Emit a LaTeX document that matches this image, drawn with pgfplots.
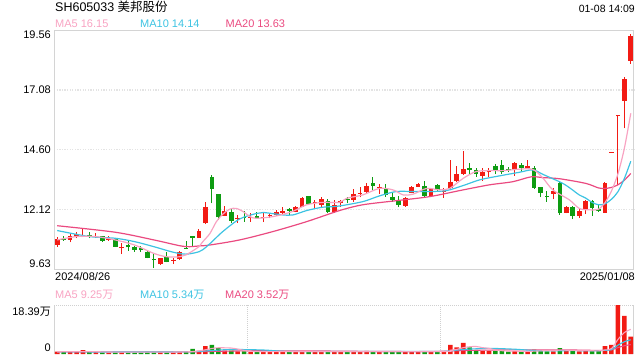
\documentclass[border=0pt]{standalone}
\usepackage{pgfplots}
\pgfplotsset{compat=1.18}
\usepackage{pgfplotstable}
\usepackage{fontspec}
\setmainfont{Liberation Sans}
\newfontfamily\cjk{Noto Sans CJK SC}
\definecolor{up}{HTML}{F21B14}
\definecolor{dn}{HTML}{0E9C12}
\definecolor{maf}{HTML}{F8A3C2}
\definecolor{mam}{HTML}{3DC3E2}
\definecolor{mas}{HTML}{EA4A80}
\definecolor{frame}{HTML}{D4D4D4}
\definecolor{gridc}{HTML}{E4E4E4}

\pgfplotstableread{
x o h l c v
0 10.64 10.98 10.56 10.89 0.9
2 10.85 11.13 10.75 11.00 0.8
3 11.00 11.18 10.93 11.09 0.8
4 10.97 11.30 10.97 11.06 1.5
6 10.97 11.13 10.93 11.03 0.8
8 10.84 11.00 10.82 10.88 0.6
10 10.53 10.71 10.26 10.57 0.7
16 9.84 10.11 9.81 10.08 0.8
18 9.98 10.11 9.84 10.01 0.6
19 10.04 10.39 10.02 10.34 0.9
22 10.92 11.30 10.92 11.24 1.2
23 11.54 12.41 11.51 12.21 3.0
26 11.86 12.28 11.84 12.04 1.3
28 11.73 11.89 11.56 11.76 1.0
30 11.77 11.96 11.61 11.82 0.8
32 11.77 11.96 11.59 11.82 0.9
33 11.86 11.96 11.75 11.89 0.8
34 11.89 12.10 11.85 12.00 0.9
35 11.98 12.23 11.89 12.05 0.9
37 12.03 12.25 12.01 12.21 0.8
38 12.23 12.65 12.21 12.58 1.1
40 12.37 12.51 12.16 12.44 0.9
41 12.31 12.65 12.23 12.54 0.9
43 12.02 12.51 11.98 12.31 0.9
44 12.39 12.51 12.23 12.45 0.9
46 12.51 12.96 12.44 12.76 1.1
47 12.78 13.06 12.62 12.81 1.0
48 12.86 13.23 12.76 13.11 1.2
50 13.01 13.16 12.76 13.06 0.9
54 12.26 12.65 12.23 12.58 0.9
55 12.81 13.11 12.78 13.06 1.1
56 13.06 13.23 13.04 13.16 1.0
58 12.68 13.01 12.63 12.96 0.9
60 12.85 12.99 12.60 12.90 1.0
61 12.99 14.18 12.93 13.27 3.4
62 13.31 13.93 13.27 13.59 2.5
63 13.59 14.55 13.55 13.79 4.2
66 13.52 13.83 13.31 13.67 1.2
67 13.66 13.83 13.48 13.72 1.2
71 13.78 14.07 13.52 14.03 1.1
73 13.83 14.18 13.79 13.94 0.9
77 12.76 13.02 12.54 12.89 1.0
79 11.98 12.25 11.95 12.20 1.3
81 11.85 12.14 11.77 12.07 1.0
82 12.12 12.51 11.92 12.47 1.3
85 11.98 13.27 11.98 13.20 3.0
86 14.47 14.51 14.47 14.51 3.4
87 15.98 16.02 13.14 16.02 18.39
88 16.64 17.63 15.49 17.52 14.3
89 18.30 19.39 18.16 19.33 6.5
}\uptab

\pgfplotstableread{
x o h l c v
1 10.88 11.03 10.81 10.85 0.7
5 11.06 11.18 10.93 10.98 0.7
7 11.00 11.03 10.78 10.82 0.6
9 10.88 10.92 10.55 10.57 0.7
11 10.63 10.81 10.41 10.54 0.6
12 10.54 10.61 10.36 10.44 0.6
13 10.51 10.60 10.34 10.42 0.6
14 10.36 10.39 10.08 10.11 0.9
15 10.05 10.26 9.70 10.01 0.8
17 10.14 10.36 9.92 9.95 0.7
20 10.53 10.81 10.47 10.50 0.9
21 11.00 11.01 10.57 10.93 1.9
24 13.48 13.55 12.37 12.96 3.4
25 12.76 12.76 11.68 11.79 2.2
27 12.01 12.12 11.56 11.65 1.3
29 11.82 12.05 11.61 11.77 1.0
31 11.85 12.02 11.72 11.75 0.9
36 12.12 12.16 11.89 12.07 0.7
39 12.68 12.68 12.30 12.34 1.0
42 12.48 12.54 11.96 12.02 1.0
45 12.56 12.62 12.37 12.53 0.8
49 13.20 13.48 12.93 13.09 1.1
51 12.99 13.16 12.65 12.72 0.9
52 12.65 12.83 12.44 12.51 0.8
53 12.51 12.68 12.21 12.31 0.8
57 13.11 13.30 12.65 12.68 1.0
59 13.13 13.16 12.87 12.93 0.8
64 13.83 14.06 13.55 13.76 2.5
65 13.76 13.85 13.48 13.58 1.5
68 13.93 13.99 13.58 13.72 1.1
69 13.97 14.18 13.58 13.69 1.2
70 13.79 13.87 13.66 13.76 0.9
72 13.97 14.03 13.68 13.83 0.9
74 13.82 13.93 12.96 13.02 1.6
75 13.04 13.04 12.63 12.81 1.4
76 12.68 12.89 12.44 12.65 1.0
78 13.20 13.27 11.89 11.96 2.2
80 12.20 12.26 11.71 11.85 1.3
83 12.47 12.51 11.85 12.19 1.2
84 12.14 12.31 12.02 12.05 1.1
}\dntab

\begin{document}
\fontsize{11bp}{13bp}\selectfont
\begin{tikzpicture}
\useasboundingbox (0bp,0bp) rectangle (640bp,360bp);
% header texts
\node[anchor=west,inner sep=0] at (55bp,353bp) {\fontsize{12.5bp}{14bp}\selectfont SH605033 {\cjk 美邦股份}};
\node[anchor=east,inner sep=0] at (635bp,350.7bp) {\fontsize{10.5bp}{12bp}\selectfont 01-08 14:09};
\node[anchor=west,inner sep=0,text=maf] at (55bp,336bp) {MA5 16.15};
\node[anchor=west,inner sep=0,text=mam] at (140bp,336bp) {MA10 14.14};
\node[anchor=west,inner sep=0,text=mas] at (225.5bp,336bp) {MA20 13.63};
\node[anchor=west,inner sep=0] at (55bp,83bp) {2024/08/26};
\node[anchor=east,inner sep=0] at (635bp,83bp) {2025/01/08};
\node[anchor=west,inner sep=0,text=maf] at (55bp,65bp) {MA5 9.25{\cjk 万}};
\node[anchor=west,inner sep=0,text=mam] at (140bp,65bp) {MA10 5.34{\cjk 万}};
\node[anchor=west,inner sep=0,text=mas] at (225bp,65bp) {MA20 3.52{\cjk 万}};

\begin{axis}[at={(54bp,90.7bp)}, anchor=south west, width=580bp, height=239bp,
  scale only axis, xmin=-0.5, xmax=89.5, ymin=9.63, ymax=19.56,
  axis line style={draw=frame, line width=1bp},
  xtick=\empty, ytick={12.12,14.60,17.08}, yticklabels={},
  major tick length=0pt,
  ymajorgrids, grid style={draw=gridc, line width=1.3bp, dash pattern=on 1.3bp off 1.3bp},
  clip=false]
% wicks
\addplot[draw=none, mark=none, forget plot, error bars/.cd, y dir=plus, y explicit, error mark=none,
  error bar style={line width=1bp, draw=up, solid}] table[x=x, y=l, y error expr=\thisrow{h}-\thisrow{l}] {\uptab};
\addplot[draw=none, mark=none, forget plot, error bars/.cd, y dir=plus, y explicit, error mark=none,
  error bar style={line width=1bp, draw=dn, solid}] table[x=x, y=l, y error expr=\thisrow{h}-\thisrow{l}] {\dntab};
% bodies
\addplot[draw=none, mark=none, forget plot, error bars/.cd, y dir=plus, y explicit, error mark=none,
  error bar style={line width=4.6bp, draw=up, solid}] table[x=x, y=o, y error expr=\thisrow{c}-\thisrow{o}] {\uptab};
\addplot[draw=none, mark=none, forget plot, error bars/.cd, y dir=plus, y explicit, error mark=none,
  error bar style={line width=4.6bp, draw=dn, solid}] table[x=x, y=c, y error expr=\thisrow{o}-\thisrow{c}] {\dntab};
% moving averages
\addplot[mas, line width=1.2bp, smooth, tension=0.5] coordinates {
(0,11.44) (9,11.17) (15,10.85) (19,10.61) (20.5,10.57) (22,10.60) (23.7,10.64) (28.3,10.85)
(33.5,11.20) (38.7,11.61) (43.8,12.07) (47.4,12.31) (52.6,12.48) (57.8,12.65) (63,12.93)
(67.1,13.14) (70.7,13.27) (73.5,13.47) (75.4,13.44) (78,13.39) (82,13.20) (84,13.01) (85,12.99)
(86,13.03) (87,13.14) (88,13.33) (89,13.61)};
\addplot[mam, line width=1.2bp, smooth, tension=0.5] coordinates {
(0,11.24) (5,10.99) (9,10.92) (12,10.78) (15,10.57) (18,10.34) (20,10.26) (22,10.36) (23,10.53)
(24,10.77) (25.7,11.20) (28.3,11.72) (30.9,11.95) (32,11.99) (35,11.89) (36.6,11.89) (38.7,12.07)
(41.2,12.21) (43.5,12.25) (47.4,12.44) (50,12.68) (52.6,12.86) (55.2,12.86) (57.8,12.86) (60.4,12.90)
(63,13.11) (65.6,13.35) (68.6,13.51) (71.7,13.66) (73.8,13.76) (75.4,13.57) (78,13.26) (79,13.11)
(80,12.92) (81,12.72) (82,12.59) (83,12.41) (84,12.31) (85,12.35) (86,12.54) (87,12.85) (88,13.40) (89,14.12)};
\addplot[maf, line width=1.2bp, smooth, tension=0.5] coordinates {
(0,10.85) (3,10.99) (6,10.99) (9,10.85) (12,10.64) (15,10.29) (17,10.15) (19,10.15) (20,10.23)
(22,10.57) (22.6,10.78) (23.7,11.12) (24.7,11.61) (25.7,11.92) (26.8,12.13) (27.8,12.16) (28.9,12.02)
(29.9,11.82) (30.9,11.75) (33.5,11.82) (36.4,12.02) (38.7,12.31) (41.2,12.41) (43.8,12.41) (44.9,12.58)
(47.4,12.72) (50,12.99) (52.1,12.93) (53.7,12.72) (55.2,12.75) (57.3,12.99) (59.3,12.93) (60.9,12.99)
(63,13.41) (65,13.69) (67.1,13.73) (69.2,13.73) (71.7,13.79) (73.8,13.78) (75.4,13.41) (76.9,12.93)
(79.5,12.51) (81,12.16) (82.6,12.10) (84,12.13) (85,12.40) (86,12.88) (87,13.59) (88,14.65) (89,16.11)};
% y labels
\node[anchor=north east,inner sep=0] at (axis cs:-0.5,19.56) [xshift=-3bp,yshift=-0.5bp] {19.56};
\node[anchor=east,inner sep=0] at (axis cs:-0.5,17.08) [xshift=-3bp] {17.08};
\node[anchor=east,inner sep=0] at (axis cs:-0.5,14.60) [xshift=-3bp] {14.60};
\node[anchor=east,inner sep=0] at (axis cs:-0.5,12.12) [xshift=-3bp] {12.12};
\node[anchor=south east,inner sep=0] at (axis cs:-0.5,9.63) [xshift=-3bp,yshift=1.5bp] {9.63};
\end{axis}

\begin{axis}[at={(54bp,6bp)}, anchor=south west, width=580bp, height=49bp,
  scale only axis, xmin=-0.5, xmax=89.5, ymin=0, ymax=18.39,
  axis line style={draw=none},
  xtick=\empty, ytick=\empty, major tick length=0pt, clip=false]
\draw[frame, line width=1bp] (rel axis cs:0,0) -- (rel axis cs:0,1);
\draw[frame, line width=1bp] (rel axis cs:1,0) -- (rel axis cs:1,1);
\draw[gridc!80!gray, line width=1bp, dash pattern=on 1bp off 1bp] (rel axis cs:0,1) -- (rel axis cs:1,1);
\draw[gridc!80!gray, line width=1bp, dash pattern=on 1bp off 1bp] (rel axis cs:0.3333,0) -- (rel axis cs:0.3333,1);
\draw[gridc!80!gray, line width=1bp, dash pattern=on 1bp off 1bp] (rel axis cs:0.6667,0) -- (rel axis cs:0.6667,1);
\addplot[ybar, bar width=4.6bp, bar shift=0pt, fill=up, draw=none] table[x=x, y=v] {\uptab};
\addplot[ybar, bar width=4.6bp, bar shift=0pt, fill=dn, draw=none] table[x=x, y=v] {\dntab};
\addplot[mas, line width=1.1bp, smooth] coordinates {
(0,0.8) (10,0.8) (20,0.8) (25,1.0) (30,1.2) (40,1.15) (50,0.95) (58,0.95) (65,1.4) (72,1.55) (80,1.5) (84,1.35) (86,1.6) (87,2.4) (88,3.1) (89,3.52)};
\addplot[mam, line width=1.1bp, smooth] coordinates {
(0,0.8) (10,0.75) (20,0.8) (24,1.3) (27,1.7) (32,1.5) (36,0.95) (45,0.95) (55,0.95) (60,1.0) (63,1.7) (67,2.1) (71,1.8) (75,1.2) (80,1.25) (84,1.2) (85,1.4) (86,1.6) (87,3.3) (88,4.6) (89,5.34)};
\addplot[maf, line width=1.1bp, smooth] coordinates {
(0,0.85) (5,0.9) (10,0.7) (20,0.8) (23,1.58) (24,2.08) (25,2.34) (27,2.24) (28,1.84) (29,1.36) (30,1.08) (32,0.9) (45,0.95) (60,0.94) (61,1.42) (62,1.72) (63,2.38) (64,2.72) (65,2.82) (66,2.38) (67,2.12) (68,1.5) (69,1.24) (70,1.12) (73,1.0) (75,1.18) (78,1.44) (80,1.36) (83,1.22) (84,1.18) (85,1.52) (86,2.0) (87,5.42) (88,8.04) (89,9.25)};
\node[anchor=north east,inner sep=0] at (axis cs:-0.5,18.39) [xshift=-3bp,yshift=-2bp] {18.39{\cjk 万}};
\node[anchor=south east,inner sep=0] at (axis cs:-0.5,0) [xshift=-3bp,yshift=2bp] {0};
\end{axis}
\end{tikzpicture}
\end{document}
